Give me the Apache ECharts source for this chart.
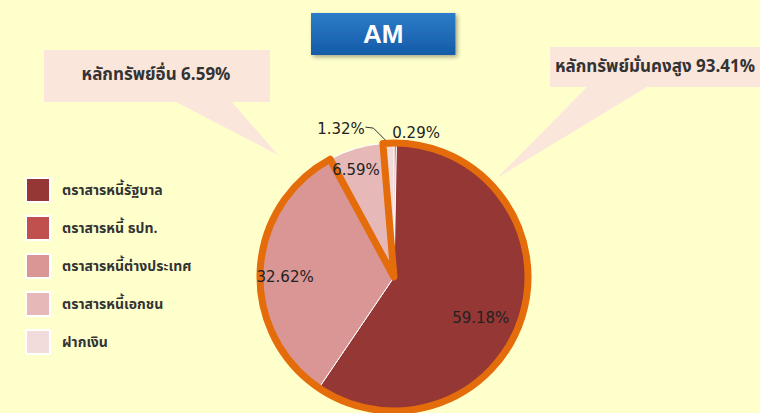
<!DOCTYPE html>
<html>
<head>
<meta charset="utf-8">
<script src="https://cdn.jsdelivr.net/npm/echarts@6/dist/echarts.min.js"></script>
<style>
html,body{margin:0;padding:0;background:#FFFFCC;}
#chart{width:760px;height:413px;}
</style>
</head>
<body>
<div id="chart"></div>
<script>
// ---- data ----
const titleText = 'AM';
const categories = ['ตราสารหนี้รัฐบาล', 'ตราสารหนี้ ธปท.', 'ตราสารหนี้ต่างประเทศ', 'ตราสารหนี้เอกชน', 'ฝากเงิน'];
const values = [59.18, 0.29, 32.62, 6.59, 1.32];
const drawOrder = [1, 0, 2, 3, 4]; // clockwise from 12 o'clock
const groupLabels = ['หลักทรัพย์มั่นคงสูง', 'หลักทรัพย์อื่น'];
const groupValues = [93.41, 6.59];

// ---- styles ----
const colors = ['#953735', '#C0504D', '#D99694', '#E6B9B8', '#F2DCDB'];
const orange = '#E46C0A';
const thaiFont = '"Noto Sans Thai", "Noto Sans", "DejaVu Sans", sans-serif';
const numFont = '"DejaVu Sans", sans-serif';
const labelNudge = {0: [20, 20], 2: [-39, 3], 3: [-18, -40], 4: [-8, 0], 1: [-8, 0]};

const chart = echarts.init(document.getElementById('chart'), null, {renderer: 'svg'});

const pieData = drawOrder.map(i => {
  const d = {name: categories[i], value: values[i], itemStyle: {color: colors[i]}};
  if (i === 4) {
    d.label = {position: 'outside'};
    d.labelLine = {show: true, length: 14, length2: 10, lineStyle: {color: '#333', width: 1}};
  } else if (i === 1) {
    d.label = {position: 'outside'};
    d.labelLine = {show: false, length: 10, length2: 0};
  }
  return d;
});

// start of the overlay (orange outline around the high-security group)
const total = values.reduce((a, b) => a + b, 0);
let before = 0;
for (const i of drawOrder) { if (i === 4) break; before += values[i]; }
const startDeg = before / total * 360;
const overlayStart = ((90 - startDeg) % 360 + 360) % 360;

const option = {
  backgroundColor: '#FFFFCC',
  title: {
    text: titleText,
    left: 311, top: 13,
    padding: [8, 52, 8, 52],
    backgroundColor: {type: 'linear', x: 0, y: 0, x2: 0, y2: 1,
      colorStops: [{offset: 0, color: '#2D7CC8'}, {offset: 1, color: '#145BA8'}]},
    shadowBlur: 4, shadowColor: 'rgba(0,0,0,0.35)', shadowOffsetX: 2, shadowOffsetY: 2,
    textStyle: {color: '#fff', fontSize: 26, fontWeight: 'bold', fontFamily: '"Liberation Sans", Arial, sans-serif', lineHeight: 26}
  },
  legend: {
    orient: 'vertical', left: 25, top: 177, padding: 0,
    data: categories,
    itemWidth: 24, itemHeight: 24, itemGap: 12,
    icon: 'rect',
    textStyle: {fontSize: 14, color: '#333', fontFamily: thaiFont, fontWeight: 'bold', padding: [0, 0, 0, 7]},
    selectedMode: false
  },
  graphic: [
    {type: 'polygon', silent: true,
     shape: {points: [[44, 50], [270, 50], [270, 102], [232, 102], [278, 155], [176, 102], [44, 102]]},
     style: {fill: '#FBE6DC'}},
    {type: 'text', silent: true, x: 156, y: 75,
     style: {text: groupLabels[1] + ' ' + groupValues[1].toFixed(2) + '%', fill: '#333', font: 'bold 17px ' + thaiFont, align: 'center', verticalAlign: 'middle'}},
    {type: 'polygon', silent: true,
     shape: {points: [[550, 47], [760, 47], [760, 87], [647, 87], [497, 178], [587, 87], [550, 87]]},
     style: {fill: '#FBE6DC'}},
    {type: 'text', silent: true, x: 655, y: 67,
     style: {text: groupLabels[0] + ' ' + groupValues[0].toFixed(2) + '%', fill: '#333', font: 'bold 17px ' + thaiFont, align: 'center', verticalAlign: 'middle'}}
  ],
  series: [
    {
      type: 'pie',
      center: [394, 277], radius: [0, 134],
      startAngle: 90, clockwise: true,
      avoidLabelOverlap: false,
      animation: false,
      itemStyle: {borderColor: '#fff', borderWidth: 1},
      label: {show: true, position: 'inside', formatter: p => p.value.toFixed(2) + '%',
        color: '#222', fontSize: 15, fontFamily: numFont},
      labelLayout: p => {
        const idx = drawOrder[p.dataIndex];
        const n = labelNudge[idx];
        const out = n ? {dx: n[0], dy: n[1]} : {};
        if (idx === 4 && p.labelLinePoints) {
          const p0 = p.labelLinePoints[0];
          const p1 = [p0[0] - 15, p0[1] - 15];
          const p2 = [p1[0] - 8, p1[1] - 1];
          out.labelLinePoints = [p0, p1, p2];
        }
        return out;
      },
      emphasis: {disabled: true},
      data: pieData
    },
    {
      type: 'pie',
      center: [394, 277], radius: [0, 134],
      startAngle: overlayStart, clockwise: true,
      silent: true, animation: false,
      label: {show: false}, labelLine: {show: false},
      emphasis: {disabled: true},
      data: [
        {name: groupLabels[0], value: groupValues[0], itemStyle: {color: 'rgba(0,0,0,0)', borderColor: orange, borderWidth: 7}},
        {name: groupLabels[1], value: groupValues[1], itemStyle: {color: 'rgba(0,0,0,0)', borderWidth: 0}}
      ]
    }
  ]
};
chart.setOption(option);
</script>
</body>
</html>
